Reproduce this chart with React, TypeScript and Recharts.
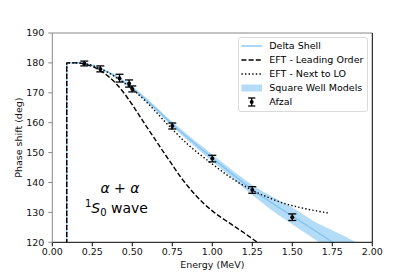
import React from 'react';
import {
  ComposedChart, Line, Area, Scatter, ErrorBar, XAxis, YAxis, Legend,
  ReferenceLine, ReferenceDot, Label,
} from 'recharts';

const FONT = '"DejaVu Sans", Verdana, sans-serif';
const BLUE_LINE = '#86c5f2';
const BLUE_BAND = '#b5dcf7';
const GRAY = '#888888';

// Delta Shell
const deltaE = [0.0899, 0.09, 0.15, 0.2, 0.3, 0.4, 0.5, 0.6, 0.75, 0.9, 1.0, 1.1, 1.25, 1.4, 1.5, 1.6, 1.75, 1.85];
const deltaPhase = [100, 180, 180.1, 179.8, 178.2, 175.4, 171.6, 167.0, 159.5, 152.6, 148.2, 143.9, 137.6, 132.2, 128.8, 125.3, 120.1, 116.5];

// Square Well Models band
const bandE = [0.09, 0.2, 0.3, 0.4, 0.5, 0.6, 0.75, 0.9, 1.0, 1.1, 1.25, 1.4, 1.5, 1.6, 1.67, 1.75, 1.9, 2.0];
const bandLow = [180, 179.7, 178.0, 175.0, 171.0, 166.3, 158.7, 151.5, 147.0, 142.6, 135.8, 129.6, 126.0, 122.4, 119.9, 117.0, 112.0, 109.0];
const bandHigh = [180, 179.9, 178.4, 175.8, 172.2, 167.7, 160.3, 153.6, 149.4, 145.2, 139.2, 134.6, 131.6, 128.2, 126.0, 124.0, 119.9, 116.5];

// EFT - Leading Order
const loE = [0.0899, 0.09, 0.15, 0.2, 0.25, 0.3, 0.35, 0.4, 0.45, 0.5, 0.55, 0.6, 0.65, 0.7, 0.75, 0.8, 0.85, 0.9, 0.95, 1.0, 1.05, 1.1, 1.15, 1.2, 1.25, 1.3];
const loPhase = [100, 180, 180, 179.6, 178.8, 177.4, 175.5, 173.0, 169.8, 166.0, 161.9, 157.8, 153.8, 149.8, 145.9, 142.0, 138.6, 135.5, 132.8, 130.5, 128.5, 126.7, 124.9, 123.1, 121.2, 119.3];

// EFT - Next to LO
const nloE = [0.0899, 0.09, 0.15, 0.2, 0.3, 0.4, 0.5, 0.6, 0.7, 0.75, 0.85, 1.0, 1.1, 1.25, 1.35, 1.45, 1.55, 1.65, 1.725];
const nloPhase = [100, 180, 180, 179.8, 178.1, 175.1, 171.2, 166.3, 160.6, 157.8, 152.6, 146.2, 142.2, 137.4, 135.0, 133.0, 131.6, 130.5, 129.8];

// Afzal data
const afzalE = [0.2, 0.3, 0.42, 0.48, 0.5, 0.75, 1.0, 1.25, 1.5];
const afzalPhase = [179.8, 178.0, 174.9, 173.1, 171.3, 158.9, 148.0, 137.5, 128.4];
const afzalErr = [0.8, 1.0, 1.3, 1.2, 1.0, 1.0, 1.1, 1.1, 1.1];

const xTicks = [0, 0.25, 0.5, 0.75, 1.0, 1.25, 1.5, 1.75, 2.0];
const yTicks = [120, 130, 140, 150, 160, 170, 180, 190];

const legendItems = ['Delta Shell', 'EFT - Leading Order', 'EFT - Next to LO', 'Square Well Models', 'Afzal'];

const deltaRows = deltaE.map((E, i) => ({ E, v: deltaPhase[i] }));
const bandRows = bandE.map((E, i) => ({ E, band: [bandLow[i], bandHigh[i]] }));
const loRows = loE.map((E, i) => ({ E, v: loPhase[i] }));
const nloRows = nloE.map((E, i) => ({ E, v: nloPhase[i] }));
const afzalRows = afzalE.map((E, i) => ({ E, v: afzalPhase[i], err: afzalErr[i] }));

function LegendIcon({ idx }: { idx: number }) {
  const x1 = 2.4, x2 = 23, cy = 7;
  if (idx === 0) return <line x1={x1} x2={x2} y1={cy} y2={cy} stroke={BLUE_LINE} strokeWidth={1.4} />;
  if (idx === 1) return <line x1={x1} x2={x2} y1={cy} y2={cy} stroke="#000" strokeWidth={1.4} strokeDasharray="5 2.2" />;
  if (idx === 2) return <line x1={x1} x2={x2} y1={cy} y2={cy} stroke="#000" strokeWidth={1.4} strokeDasharray="1.4 2.2" />;
  if (idx === 3) return <rect x={x1} y={cy - 3.5} width={x2 - x1} height={7} fill={BLUE_BAND} />;
  const cx = 12.7;
  return (
    <g stroke="#000" strokeWidth={1.3}>
      <line x1={cx} x2={cx} y1={cy - 4} y2={cy + 4} />
      <line x1={cx - 3.6} x2={cx + 3.6} y1={cy - 4} y2={cy - 4} />
      <line x1={cx - 3.6} x2={cx + 3.6} y1={cy + 4} y2={cy + 4} />
      <circle cx={cx} cy={cy} r={2} fill="#000" stroke="none" />
    </g>
  );
}

function LegendBox() {
  return (
    <div style={{
      border: '1px solid #dadada', borderRadius: 3, background: 'rgba(255,255,255,0.85)',
      padding: '1px 0 2px', fontFamily: FONT, fontSize: 9.5, color: '#000',
      width: 130, boxSizing: 'border-box', lineHeight: '14px',
    }}>
      {legendItems.map((t, i) => (
        <div key={t} style={{ display: 'flex', alignItems: 'center', height: 14, whiteSpace: 'nowrap' }}>
          <svg width={30} height={14} style={{ flex: 'none' }}><LegendIcon idx={i} /></svg>
          <span>{t}</span>
        </div>
      ))}
    </div>
  );
}

const AlphaText = (props: any) => {
  const { viewBox } = props;
  return (
    <text x={viewBox.x} y={viewBox.y} textAnchor="middle" fontFamily={FONT} fontSize={14} fill="#000">
      <tspan fontStyle="italic">α</tspan>
      <tspan> + </tspan>
      <tspan fontStyle="italic">α</tspan>
    </text>
  );
};

const WaveText = (props: any) => {
  const { viewBox } = props;
  return (
    <text x={viewBox.x} y={viewBox.y} textAnchor="middle" fontFamily={FONT} fontSize={14} fill="#000">
      <tspan fontSize={10} dy={-5.5}>1</tspan>
      <tspan fontStyle="italic" dy={5.5}>S</tspan>
      <tspan fontSize={10} dy={3}>0</tspan>
      <tspan dy={-3}> wave</tspan>
    </text>
  );
};

export default function App() {
  return (
    <ComposedChart width={407} height={269} margin={{ top: 25, right: 42.7, bottom: 0, left: 0 }}>
      <XAxis
        dataKey="E" type="number" domain={[0, 2]} ticks={xTicks} allowDataOverflow
        tickFormatter={(v: number) => v.toFixed(2)} height={34.7}
        tick={{ fontSize: 9.5, fontFamily: FONT, fill: '#111' }}
        tickSize={4} tickMargin={2}
        axisLine={{ stroke: '#000', strokeWidth: 1 }} tickLine={{ stroke: '#000' }}
      >
        <Label value="Energy (MeV)" position="center" dy={5} fontSize={9.5} fontFamily={FONT} fill="#111" />
      </XAxis>
      <YAxis
        type="number" domain={[120, 190]} ticks={yTicks} allowDataOverflow width={44.3}
        tick={{ fontSize: 9.5, fontFamily: FONT, fill: '#111' }}
        tickSize={4} tickMargin={4}
        axisLine={{ stroke: GRAY, strokeWidth: 1 }} tickLine={{ stroke: GRAY }}
      >
        <Label value="Phase shift (deg)" angle={-90} position="center" dx={-11.3} fontSize={9.5} fontFamily={FONT} fill="#111" />
      </YAxis>
      <ReferenceLine y={190} stroke={GRAY} strokeWidth={1} />
      <ReferenceLine x={2} stroke="#000" strokeWidth={1} />
      <Area data={bandRows} dataKey="band" type="monotone" stroke="none" fill={BLUE_BAND} fillOpacity={1} isAnimationActive={false} />
      <Line data={deltaRows} dataKey="v" type="monotone" stroke={BLUE_LINE} strokeWidth={1.4} dot={false} isAnimationActive={false} />
      <Line data={loRows} dataKey="v" type="monotone" stroke="#000" strokeWidth={1.4} strokeDasharray="5 2.2" dot={false} isAnimationActive={false} />
      <Line data={nloRows} dataKey="v" type="monotone" stroke="#000" strokeWidth={1.4} strokeDasharray="1.4 2.2" dot={false} isAnimationActive={false} />
      <Scatter data={afzalRows} dataKey="v" fill="#000" isAnimationActive={false}
        shape={(p: any) => <circle cx={p.cx} cy={p.cy} r={2} fill="#000" />}>
        <ErrorBar dataKey="err" direction="y" width={4} stroke="#000" strokeWidth={1.3} isAnimationActive={false} />
      </Scatter>
      <ReferenceDot x={0.423} y={136.4} r={0} fill="none" stroke="none" label={<AlphaText />} />
      <ReferenceDot x={0.401} y={129.9} r={0} fill="none" stroke="none" label={<WaveText />} />
      <Legend
        layout="vertical" align="center" verticalAlign="middle"
        content={() => <LegendBox />}
        wrapperStyle={{ position: 'absolute', left: 230.3, top: 29.3, width: 130, margin: 0, padding: 0 }}
      />
    </ComposedChart>
  );
}
